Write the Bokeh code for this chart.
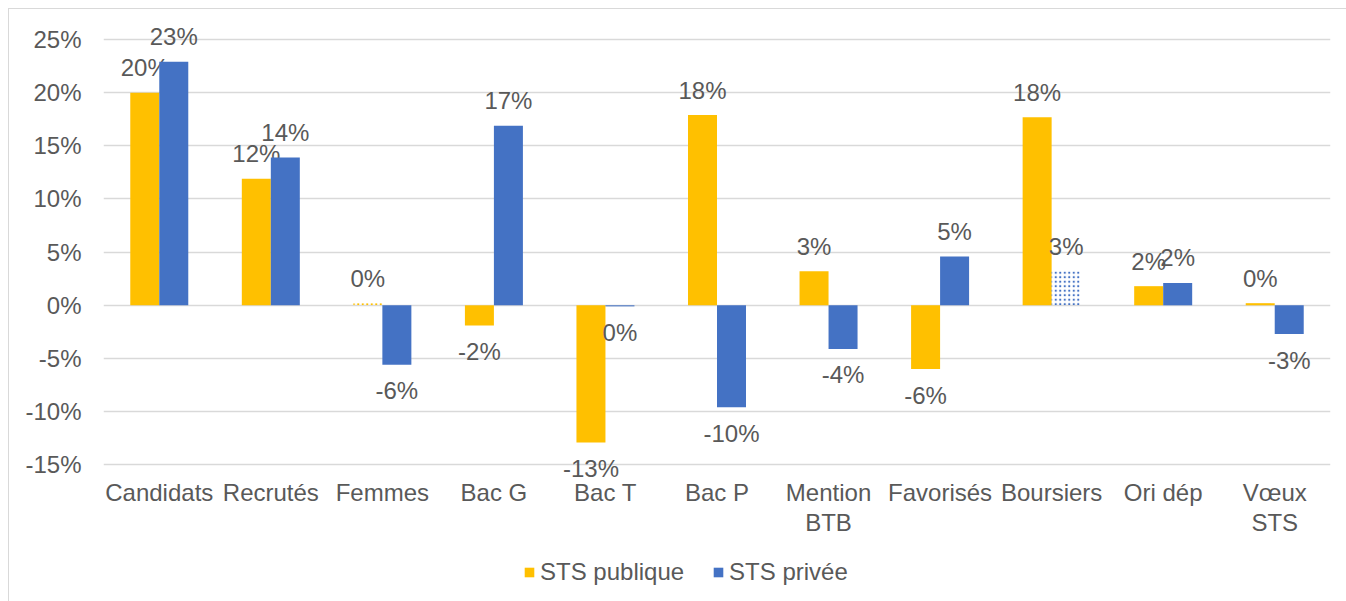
from bokeh.plotting import figure
from bokeh.models import (ColumnDataSource, FactorRange, Range1d, FixedTicker,
                          PrintfTickFormatter, Legend, LegendItem)
from bokeh.transform import dodge
from bokeh.core.properties import value
from bokeh.embed import file_html
from bokeh.resources import INLINE

categories = ["Candidats", "Recrutés", "Femmes", "Bac G", "Bac T", "Bac P",
              "Mention\nBTB", "Favorisés", "Boursiers", "Ori dép", "Vœux\nSTS"]
sts_publique = [20.0, 11.9, 0.2, -1.9, -12.9, 17.9, 3.2, -6.0, 17.7, 1.8, 0.2]
sts_privee = [22.9, 13.9, -5.6, 16.9, -0.1, -9.6, -4.1, 4.6, 3.2, 2.1, -2.7]
# bars drawn with a dotted pattern instead of a solid fill
dotted_publique = ["Femmes"]
dotted_privee = ["Boursiers"]
y_ticks = [-15, -10, -5, 0, 5, 10, 15, 20, 25]

GOLD = "#FFC000"
BLUE = "#4472C4"
TXT = "#595959"
GRID = "#D9D9D9"
FONT = "Liberation Sans"
FS = "24px"

# the frame spans the full height so that labels and legend are not clipped;
# only the -15..25 gridlines / ticks are drawn
p = figure(x_range=FactorRange(*categories, range_padding=0),
           y_range=Range1d(-27.86, 28.67),
           width=1346, height=601, output_backend="svg", toolbar_location=None,
           min_border_left=103, min_border_right=16, min_border_top=0,
           min_border_bottom=0)
p.styles = {"background": "linear-gradient(#D9D9D9,#D9D9D9) 8px 8px / 1px 600px no-repeat, "
                          "linear-gradient(#D9D9D9,#D9D9D9) 8px 8px / 1340px 1px no-repeat, white"}
p.border_fill_alpha = 0
p.background_fill_alpha = 0
p.outline_line_color = None
p.xgrid.grid_line_color = None
p.ygrid.grid_line_color = GRID
p.ygrid.grid_line_width = 1.6
p.xaxis.visible = False
p.yaxis.ticker = FixedTicker(ticks=y_ticks)
p.yaxis.formatter = PrintfTickFormatter(format="%d%%")
p.yaxis.axis_line_color = None
p.yaxis.major_tick_line_color = None
p.yaxis.minor_tick_line_color = None
p.yaxis.major_tick_out = 0
p.yaxis.major_tick_in = 0
p.yaxis.major_label_text_font = FONT
p.yaxis.major_label_text_font_size = FS
p.yaxis.major_label_text_color = TXT
p.yaxis.major_label_standoff = 22

def split(vals, dotted):
    solid = dict(cat=[], v=[])
    dot = dict(cat=[], v=[])
    for c, v in zip(categories, vals):
        d = dot if c in dotted else solid
        d["cat"].append(c)
        d["v"].append(v)
    return ColumnDataSource(solid), ColumnDataSource(dot)

W = 0.26
OFF = 0.13
renderers = []
for vals, dotted, off, col in ((sts_publique, dotted_publique, -OFF, GOLD),
                               (sts_privee, dotted_privee, OFF, BLUE)):
    s_solid, s_dot = split(vals, dotted)
    r = p.vbar(x=dodge("cat", off, range=p.x_range), top="v", bottom=0, width=W,
               source=s_solid, fill_color=col, line_color=None)
    p.vbar(x=dodge("cat", off, range=p.x_range), top="v", bottom=0, width=W,
           source=s_dot, fill_color="white", fill_alpha=0, line_color=None,
           hatch_pattern="dot", hatch_color=col, hatch_scale=4.5, hatch_weight=2)
    renderers.append(r)
    lab = ColumnDataSource(dict(
        cat=list(categories), v=list(vals),
        t=[f"{int(round(v))}%" for v in vals],
        yo=[-25 if v >= 0 else 26 for v in vals]))
    p.text(x=dodge("cat", off, range=p.x_range), y="v", text="t", y_offset="yo",
           source=lab, text_align="center", text_baseline="middle",
           text_font=value(FONT), text_font_size=FS, text_color=TXT)

# category labels under the -15 % line
cat_src = ColumnDataSource(dict(cat=list(categories),
                                y=[y_ticks[0]] * len(categories)))
p.text(x="cat", y="y", text="cat", source=cat_src, y_offset=14,
       text_align="center", text_baseline="top", text_line_height=1.12,
       text_font=value(FONT), text_font_size=FS, text_color=TXT)

legend = Legend(items=[LegendItem(label="STS publique", renderers=[renderers[0]]),
                       LegendItem(label="STS privée", renderers=[renderers[1]])],
                orientation="horizontal", location=(420, 15),
                label_text_font=FONT, label_text_font_size=FS,
                label_text_color=TXT, glyph_width=12, glyph_height=12,
                label_standoff=5, spacing=28, border_line_color=None,
                background_fill_alpha=0, margin=0, padding=0)
p.add_layout(legend, "center")

open("out.html", "w").write(file_html(p, INLINE))
